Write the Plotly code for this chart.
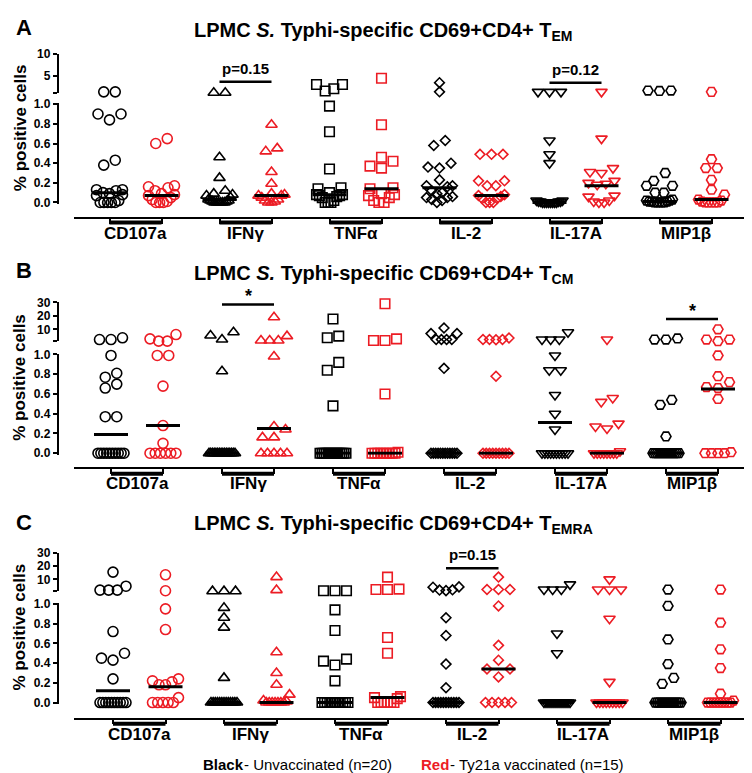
import plotly.graph_objects as go

W, H = 752, 773
FONT = "Liberation Sans, Arial, sans-serif"
BLACK = "#000000"
RED = "#ec1c24"

# ---------------- data ----------------
categories = ["CD107a", "IFNγ", "TNFα", "IL-2", "IL-17A", "MIP1β"]
panel_letters = ["A", "B", "C"]
panel_subsets = ["EM", "CM", "EMRA"]
lower_ticks = [0.0, 0.2, 0.4, 0.6, 0.8, 1.0]
upper_ticks = [[5, 10], [10, 20, 30], [10, 20, 30]]
upper_top = [10, 30, 30]
legend_black_key = "Black"
legend_black = "- Unvaccinated (n=20)"
legend_red_key = "Red"
legend_red = "- Ty21a vaccinated (n=15)"

# Panel A: T_EM  (% positive cells)
tem_unvaccinated = [
    [1.3, 1.3, 0.90, 0.90, 0.84, 0.43, 0.38, 0.13, 0.13, 0.12, 0.10, 0.09, 0.08, 0.07, 0.02, 0, 0, 0, 0, 0],
    [1.1, 1.1, 0.46, 0.25, 0.12, 0.09, 0.08, 0.07, 0.05, 0.03, 0.02, 0.02, 0.01, 0.01, 0, 0, 0, 0, 0, 0],
    [3.0, 2.0, 1.5, 3.0, 0.98, 0.72, 0.34, 0.15, 0.14, 0.10, 0.08, 0.08, 0.07, 0.07, 0.06, 0.05, 0.02, 0, 0, 0],
    [3.4, 1.3, 0.63, 0.58, 0.40, 0.36, 0.35, 0.23, 0.17, 0.17, 0.16, 0.12, 0.10, 0.09, 0.06, 0.05, 0.05, 0.03, 0.02, 0.0],
    [1.3, 1.3, 1.3, 0.63, 0.49, 0.40, 0.02, 0.02, 0.01, 0.01, 0.01, 0.01, 0, 0, 0, 0, 0, 0, 0, 0],
    [1.6, 1.5, 1.6, 0.30, 0.22, 0.17, 0.17, 0.10, 0.10, 0.03, 0.02, 0.02, 0.01, 0.01, 0.01, 0, 0, 0, 0, 0],
]
tem_vaccinated = [
    [0.65, 0.60, 0.17, 0.16, 0.15, 0.12, 0.09, 0.08, 0.07, 0.05, 0.03, 0.01, 0, 0, 0],
    [0.79, 0.55, 0.52, 0.31, 0.19, 0.09, 0.08, 0.07, 0.07, 0.05, 0.03, 0.02, 0.01, 0, 0],
    [4.4, 0.79, 0.46, 0.42, 0.37, 0.35, 0.15, 0.14, 0.09, 0.08, 0.07, 0.05, 0.02, 0, 0],
    [0.49, 0.49, 0.49, 0.22, 0.22, 0.17, 0.17, 0.08, 0.07, 0.06, 0.04, 0.04, 0, 0, 0],
    [1.3, 0.65, 0.35, 0.31, 0.30, 0.22, 0.20, 0.19, 0.18, 0.07, 0.06, 0.02, 0.01, 0, 0],
    [1.3, 0.44, 0.35, 0.35, 0.23, 0.13, 0.08, 0.03, 0.02, 0.01, 0, 0, 0, 0, 0],
]
tem_median_unvaccinated = [0.10, 0.03, 0.08, 0.15, 0.0, 0.01]
tem_median_vaccinated = [0.07, 0.07, 0.14, 0.07, 0.17, 0.03]

# Panel B: T_CM
tcm_unvaccinated = [
    [2.4, 2.4, 3.7, 0.99, 0.81, 0.77, 0.70, 0.66, 0.37, 0.37] + [0] * 10,
    [7.8, 2.4, 5.4, 0.83] + [0] * 16,
    [17.6, 4.9, 3.7, 0.92, 0.84, 0.48] + [0] * 14,
    [11, 6.8, 6.8, 2.4, 2.4, 2.4, 2.4, 0.86] + [0] * 12,
    [7.8, 2.4, 2.4, 2.4, 0.99, 0.84, 0.84, 0.59, 0.40, 0.24] + [0] * 10,
    [2.4, 2.4, 3.2, 0.54, 0.49, 0.17] + [0] * 14,
]
tcm_vaccinated = [
    [2.9, 1.2, 1.2, 6.1, 0.99, 0.99, 0.68, 0.28, 0.10] + [0] * 6,
    [19, 4.9, 1.7, 1.7, 1.7, 0.98, 0.27, 0.24, 0.16, 0.16] + [0] * 5,
    [29, 2.9, 1.7, 1.7, 0.60, 0.01] + [0] * 9,
    [3.5, 2.4, 2.4, 2.4, 2.2, 0.78] + [0] * 9,
    [2.4, 0.56, 0.52, 0.30, 0.27, 0.25, 0.02] + [0] * 8,
    [10, 2.4, 2.4, 1.2, 0.99, 0.78, 0.72, 0.67, 0.66, 0.55, 0.01] + [0] * 4,
]
tcm_median_unvaccinated = [0.19, 0.0, 0.0, 0.0, 0.31, 0.0]
tcm_median_vaccinated = [0.28, 0.25, 0.0, 0.0, 0.0, 0.65]

# Panel C: T_EMRA
temra_unvaccinated = [
    [15.4, 2.0, 2.0, 2.0, 4.9, 0.72, 0.50, 0.45, 0.43, 0.24] + [0] * 10,
    [1.2, 1.2, 1.2, 0.96, 0.86, 0.76, 0.25] + [0] * 13,
    [1.5, 1.5, 1.5, 0.94, 0.73, 0.44, 0.42, 0.38, 0.22] + [0] * 11,
    [4.4, 2.2, 1.6, 2.0, 4.2, 0.86, 0.68, 0.39, 0.15] + [0] * 11,
    [6.3, 2.4, 2.4, 2.4, 0.70, 0.50] + [0] * 14,
    [2.4, 0.98, 0.64, 0.39, 0.25, 0.19] + [0] * 14,
]
temra_vaccinated = [
    [13.4, 1.5, 0.95, 0.74, 0.24, 0.22, 0.21, 0.18, 0.18, 0.05] + [0] * 5,
    [11.7, 2.0, 0.51, 0.30, 0.18, 0.08, 0.02, 0.01] + [0] * 7,
    [11.7, 2.7, 2.4, 2.4, 0.66, 0.50, 0.06, 0.05, 0.04] + [0] * 6,
    [11.7, 2.4, 2.4, 2.4, 0.98, 0.58, 0.43, 0.34, 0.34, 0.26] + [0] * 5,
    [10, 2.4, 2.4, 2.4, 0.85, 0.21] + [0] * 9,
    [2.4, 0.81, 0.54, 0.35, 0.09, 0.02] + [0] * 9,
]
temra_median_unvaccinated = [0.12, 0.0, 0.0, 0.0, 0.0, 0.0]
temra_median_vaccinated = [0.16, 0.0, 0.05, 0.34, 0.0, 0.0]

# significance brackets
sig_panel = [0, 0, 1, 1, 2]
sig_category = [1, 4, 1, 5, 3]
sig_label = ["p=0.15", "p=0.12", "*", "*", "p=0.15"]
sig_level = [3.6, 3.4, 28.5, 17.6, 18.3]

unvaccinated = [tem_unvaccinated, tcm_unvaccinated, temra_unvaccinated]
vaccinated = [tem_vaccinated, tcm_vaccinated, temra_vaccinated]
median_unvaccinated = [tem_median_unvaccinated, tcm_median_unvaccinated, temra_median_unvaccinated]
median_vaccinated = [tem_median_vaccinated, tcm_median_vaccinated, temra_median_vaccinated]

# ---------------- styling / geometry (pixels) ----------------
symbols = ["circle-open", "triangle-up-open", "square-open", "diamond-open",
           "triangle-down-open", "hexagon2-open"]
marker_sizes = [10, 10, 9.5, 7.5, 10, 10]

GEOM = [
    dict(up_top=39.5, up_bot=79.5, low_one=90.7, low_zero=190.7, xaxis_y=206.7,
         bar_y=211.0, label_y=222.0, title_y=17.0, letter_y=13.0,
         black0=101.5, step=110.0, gap=52.0, x_end=741.0),
    dict(up_top=292.3, up_bot=332.0, low_one=345.3, low_zero=445.7, xaxis_y=461.0,
         bar_y=466.5, label_y=477.0, title_y=263.5, letter_y=260.0,
         black0=103.0, step=111.0, gap=52.0, x_end=748.0),
    dict(up_top=546.7, up_bot=586.3, low_one=599.0, low_zero=699.3, xaxis_y=715.7,
         bar_y=721.0, label_y=732.0, title_y=518.5, letter_y=516.0,
         black0=105.0, step=111.0, gap=52.5, x_end=751.0),
]
X_START = 65.5
Y_AXIS_X = 49.5


def fx(px):
    return px / W


def fy(py):
    return 1 - py / H


def swarm(pix, d=8.5, cap=11.5, maxhalf=13.0):
    """Horizontal offsets (pixels) for points with similar pixel heights."""
    order = sorted(range(len(pix)), key=lambda i: -pix[i])
    bins = []
    for i in order:
        if bins and abs(pix[i] - pix[bins[-1][0]]) < d:
            bins[-1].append(i)
        else:
            bins.append([i])
    offs = [0.0] * len(pix)
    for b in bins:
        n = len(b)
        if n == 1:
            continue
        step = min(cap, 2 * maxhalf / (n - 1))
        centre = (n - 1) / 2
        slots = sorted(range(n), key=lambda s: (abs(s - centre), s))
        members = sorted(b, key=lambda i: -pix[i])
        for i, s in zip(members, slots):
            offs[i] = (s - centre) * step
    return offs


fig = go.Figure()
annotations = []
shapes = []
layout_axes = {}

for p in range(3):
    g = GEOM[p]
    xname = "x" if p == 0 else f"x{p + 1}"
    xkey = "xaxis" if p == 0 else f"xaxis{p + 1}"
    ylo = "y" if p == 0 else f"y{2 * p + 1}"
    ylokey = "yaxis" if p == 0 else f"yaxis{2 * p + 1}"
    yup = f"y{2 * p + 2}"
    yupkey = f"yaxis{2 * p + 2}"
    xs = g["step"]
    gap = g["gap"] / xs
    lo_scale = g["low_zero"] - g["low_one"]
    up_scale = (g["up_bot"] - g["up_top"]) / (upper_top[p] - 1)

    def pix(v, g=g, lo_scale=lo_scale, up_scale=up_scale):
        if v <= 1.0:
            return g["low_zero"] - v * lo_scale
        return g["up_bot"] - (v - 1) * up_scale

    tickpos = []
    for c in range(len(categories)):
        groups = [(unvaccinated[p][c], BLACK, c),
                  (vaccinated[p][c], RED, c + gap)]
        for vals, color, base in groups:
            tickpos.append(base)
            offs = swarm([pix(v) for v in vals])
            lx = [base + o / xs for v, o in zip(vals, offs) if v <= 1.0]
            ly = [v for v in vals if v <= 1.0]
            ux = [base + o / xs for v, o in zip(vals, offs) if v > 1.0]
            uy = [v for v in vals if v > 1.0]
            mk = dict(symbol=symbols[c], size=marker_sizes[c], color=color,
                      line=dict(color=color, width=1.6))
            fig.add_trace(go.Scatter(x=lx, y=ly, mode="markers", marker=mk,
                                     xaxis=xname, yaxis=ylo, cliponaxis=False,
                                     showlegend=False, hoverinfo="skip"))
            if ux:
                fig.add_trace(go.Scatter(x=ux, y=uy, mode="markers", marker=mk,
                                         xaxis=xname, yaxis=yup, cliponaxis=False,
                                         showlegend=False, hoverinfo="skip"))
        # medians on top
        for base, med in [(c, median_unvaccinated[p][c]), (c + gap, median_vaccinated[p][c])]:
            hw = 17.0 / xs
            fig.add_trace(go.Scatter(x=[base - hw, base + hw], y=[med, med], mode="lines",
                                     line=dict(color=BLACK, width=3), xaxis=xname, yaxis=ylo,
                                     cliponaxis=False, showlegend=False, hoverinfo="skip"))
        # category underline bar and label
        shapes.append(dict(type="line", xref=xname, yref="paper", x0=c, x1=c + gap,
                           y0=fy(g["bar_y"]), y1=fy(g["bar_y"]),
                           line=dict(color=BLACK, width=4)))
        annotations.append(dict(text=categories[c], xref=xname, yref="paper",
                                x=c + gap / 2, y=fy(g["label_y"]), showarrow=False,
                                xanchor="center", yanchor="middle",
                                font=dict(family=FONT, size=17, color=BLACK, weight="bold")))

    layout_axes[xkey] = dict(
        domain=[fx(X_START), fx(g["x_end"])],
        range=[(X_START - g["black0"]) / xs, (g["x_end"] - g["black0"]) / xs],
        anchor="free", position=fy(g["xaxis_y"]),
        showline=True, linecolor=BLACK, linewidth=1.5,
        ticks="outside", ticklen=5, tickwidth=1.5, tickcolor=BLACK,
        tickmode="array", tickvals=tickpos, showticklabels=False,
        showgrid=False, zeroline=False, fixedrange=True)
    layout_axes[ylokey] = dict(
        domain=[fy(g["low_zero"] + 0.015 * lo_scale), fy(g["low_one"] - 0.01 * lo_scale)],
        range=[-0.015, 1.01], anchor="free", position=fx(Y_AXIS_X),
        showline=True, linecolor=BLACK, linewidth=1.5,
        ticks="outside", ticklen=4, tickwidth=1.5, tickcolor=BLACK,
        tickmode="array", tickvals=lower_ticks, ticktext=[f"{t:.1f}" for t in lower_ticks],
        tickfont=dict(family=FONT, size=12, color=BLACK, weight="bold"),
        showgrid=False, zeroline=False, fixedrange=True)
    layout_axes[yupkey] = dict(
        domain=[fy(g["up_bot"]), fy(g["up_top"])],
        range=[1, upper_top[p]], anchor="free", position=fx(Y_AXIS_X),
        showline=True, linecolor=BLACK, linewidth=1.5,
        ticks="outside", ticklen=4, tickwidth=1.5, tickcolor=BLACK,
        tickmode="array", tickvals=upper_ticks[p], ticktext=[str(t) for t in upper_ticks[p]],
        minor=dict(tickmode="array", tickvals=[1], ticks="outside", ticklen=4,
                   tickwidth=1.5, tickcolor=BLACK, showgrid=False),
        tickfont=dict(family=FONT, size=12, color=BLACK, weight="bold"),
        showgrid=False, zeroline=False, fixedrange=True)

    # titles, letters, y title
    annotations.append(dict(
        text=f"LPMC <i>S.</i> Typhi-specific CD69+CD4+ T<sub>{panel_subsets[p]}</sub>",
        xref="paper", yref="paper", x=fx(184), y=fy(g["title_y"]), showarrow=False,
        xanchor="left", yanchor="middle",
        font=dict(family=FONT, size=20, color=BLACK, weight="bold")))
    annotations.append(dict(text=panel_letters[p], xref="paper", yref="paper",
                            x=fx(16), y=fy(g["letter_y"]), showarrow=False,
                            xanchor="center", yanchor="middle",
                            font=dict(family=FONT, size=22, color=BLACK, weight="bold")))
    annotations.append(dict(text="% positive cells", xref="paper", yref="paper",
                            x=fx(12), y=fy((g["up_top"] + g["low_zero"]) / 2),
                            textangle=-90, showarrow=False, xanchor="center", yanchor="middle",
                            font=dict(family=FONT, size=17, color=BLACK, weight="bold")))

# significance brackets
for sp, sc, sl, sv in zip(sig_panel, sig_category, sig_label, sig_level):
    g = GEOM[sp]
    xname = "x" if sp == 0 else f"x{sp + 1}"
    yup = f"y{2 * sp + 2}"
    gap = g["gap"] / g["step"]
    fig.add_trace(go.Scatter(x=[sc, sc + gap], y=[sv, sv], mode="lines",
                             line=dict(color=BLACK, width=2.5), xaxis=xname, yaxis=yup,
                             cliponaxis=False, showlegend=False, hoverinfo="skip"))
    star = sl == "*"
    annotations.append(dict(text=sl, xref=xname, yref=yup, x=sc + gap / 2, y=sv,
                            showarrow=False, xanchor="center", yanchor="bottom",
                            yshift=-4 if star else 3,
                            font=dict(family=FONT, size=18 if star else 15, color=BLACK,
                                      weight="bold")))

# legend text (key word in bold, then description)
LEG_Y = fy(762)
annotations.append(dict(text=legend_black_key, xref="paper", yref="paper",
                        x=fx(193), y=LEG_Y, showarrow=False, xanchor="left", yanchor="middle",
                        font=dict(family=FONT, size=15, color=BLACK, weight="bold")))
annotations.append(dict(text=legend_black, xref="paper", yref="paper",
                        x=fx(233.5), y=LEG_Y, showarrow=False, xanchor="left", yanchor="middle",
                        font=dict(family=FONT, size=15, color=BLACK)))
annotations.append(dict(text=legend_red_key, xref="paper", yref="paper",
                        x=fx(411), y=LEG_Y, showarrow=False, xanchor="left", yanchor="middle",
                        font=dict(family=FONT, size=15, color=RED, weight="bold")))
annotations.append(dict(text=legend_red, xref="paper", yref="paper",
                        x=fx(439.5), y=LEG_Y, showarrow=False, xanchor="left", yanchor="middle",
                        font=dict(family=FONT, size=15, color=BLACK)))

fig.update_layout(
    width=W, height=H, margin=dict(l=0, r=0, t=0, b=0),
    paper_bgcolor="white", plot_bgcolor="white", showlegend=False,
    annotations=annotations, shapes=shapes, **layout_axes)

fig.write_html("out.html")
